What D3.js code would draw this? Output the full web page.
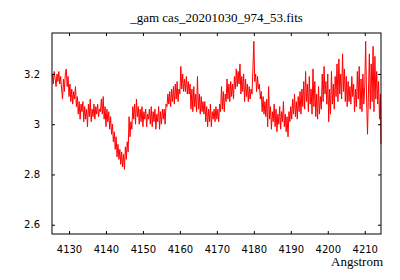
<!DOCTYPE html>
<html>
<head>
<meta charset="utf-8">
<script src="https://cdn.jsdelivr.net/npm/d3@7"></script>
<style>
  body { margin: 0; background: #fff; }
  .axis text { font-family: "DejaVu Sans", sans-serif; font-size: 10px; fill: #000; }
  .title, .x-axis-title { font-family: "Liberation Serif", serif; font-size: 13px; fill: #000; }
</style>
</head>
<body>
<div class="chart"></div>
<script>
// flux, one value every 0.25 Angstrom from 4125.5, last point at 4214.4
const flux = [
  3.20, 3.16, 3.21, 3.18, 3.15, 3.20, 3.17, 3.21,
  3.16, 3.19, 3.14, 3.10, 3.18, 3.13, 3.20, 3.22,
  3.15, 3.19, 3.11, 3.16, 3.09, 3.14, 3.08, 3.13,
  3.10, 3.15, 3.07, 3.11, 3.04, 3.09, 3.02, 3.08,
  3.05, 3.09, 3.01, 3.07, 3.02, 3.06, 2.99, 3.08,
  3.03, 3.10, 3.01, 3.06, 3.03, 3.08, 3.02, 3.07,
  3.04, 3.08, 3.03, 3.06, 3.05, 3.10, 3.04, 3.11,
  3.02, 3.07, 2.99, 3.06, 3.01, 3.05, 2.98, 3.03,
  2.96, 3.00, 2.93, 2.97, 2.90, 2.95, 2.87, 2.92,
  2.86, 2.90, 2.84, 2.89, 2.83, 2.88, 2.82, 2.91,
  2.86, 2.93, 2.89, 3.03, 2.95, 3.01, 2.98, 3.07,
  3.02, 3.08, 3.00, 3.10, 3.03, 3.07, 3.00, 3.06,
  3.01, 3.07, 2.99, 3.05, 3.02, 3.06, 2.99, 3.04,
  3.02, 3.06, 3.00, 3.07, 2.99, 3.05, 3.01, 3.06,
  2.98, 3.04, 3.01, 3.07, 2.98, 3.05, 3.00, 3.06,
  3.02, 3.06, 3.00, 3.08, 3.07, 3.12, 3.08, 3.13,
  3.07, 3.14, 3.09, 3.15, 3.08, 3.16, 3.10, 3.17,
  3.09, 3.14, 3.12, 3.23, 3.14, 3.20, 3.13, 3.18,
  3.13, 3.19, 3.12, 3.17, 3.12, 3.16, 3.06, 3.14,
  3.05, 3.15, 3.07, 3.12, 3.05, 3.19, 3.06, 3.12,
  3.04, 3.11, 3.05, 3.09, 3.04, 3.09, 3.01, 3.07,
  2.99, 3.06, 3.01, 3.08, 2.99, 3.05, 3.02, 3.06,
  3.01, 3.07, 3.02, 3.06, 3.01, 3.08, 3.05, 3.15,
  3.06, 3.13, 3.05, 3.12, 3.09, 3.18, 3.10, 3.16,
  3.09, 3.17, 3.11, 3.16, 3.10, 3.19, 3.14, 3.22,
  3.15, 3.21, 3.16, 3.24, 3.12, 3.19, 3.13, 3.20,
  3.09, 3.18, 3.11, 3.16, 3.09, 3.15, 3.10, 3.14,
  3.12, 3.22, 3.33, 3.17, 3.20, 3.13, 3.19, 3.14,
  3.16, 3.10, 3.13, 3.05, 3.11, 3.04, 3.09, 3.03,
  3.10, 2.99, 3.15, 3.02, 3.07, 2.98, 3.05, 3.01,
  3.08, 2.99, 3.06, 2.97, 3.04, 3.00, 3.07, 2.98,
  3.05, 3.01, 3.09, 2.99, 3.04, 2.97, 3.03, 2.95,
  3.05, 3.01, 3.07, 3.02, 3.10, 3.04, 3.12, 3.03,
  3.09, 3.02, 3.11, 3.05, 3.13, 3.04, 3.14, 3.07,
  3.17, 3.06, 3.21, 3.09, 3.16, 3.05, 3.19, 3.08,
  3.14, 3.04, 3.22, 3.07, 3.17, 3.03, 3.12, 3.02,
  3.15, 3.04, 3.11, 3.06, 3.20, 3.09, 3.23, 3.12,
  3.17, 3.08, 3.20, 3.01, 3.14, 3.04, 3.21, 3.08,
  3.16, 3.06, 3.19, 3.11, 3.24, 3.09, 3.26, 3.12,
  3.20, 3.10, 3.28, 3.13, 3.22, 3.09, 3.19, 3.07,
  3.17, 3.09, 3.15, 3.08, 3.19, 3.11, 3.16, 3.05,
  3.14, 3.07, 3.21, 3.10, 3.23, 3.06, 3.18, 3.05,
  3.20, 3.08, 3.15, 3.33, 3.10, 2.96, 3.12, 3.28,
  3.06, 3.24, 3.09, 3.31, 3.05, 3.27, 3.10, 3.21,
  3.08, 3.17, 3.02, 3.12, 2.92
];

const wave = flux.map((f, i) => i < flux.length - 1 ? 4125.5 + i * 0.25 : 4214.4);

const xTicks = [4130, 4140, 4150, 4160, 4170, 4180, 4190, 4200, 4210];
const yTicks = [2.6, 2.8, 3, 3.2];

const margin = ({top: 33, right: 19, bottom: 46, left: 52}),
width = 400 - margin.left - margin.right,
height = 280 - margin.top - margin.bottom;

const root = d3.select(".chart").append("svg")
    .attr("width", 400)
    .attr("height", 280);

const svg = root.append("g")
    .attr("transform", "translate(" + margin.left + "," + margin.top + ")");

const xScale = d3.scaleLinear()
    .domain([4125.4, 4214.4])
    .range([0, width]);

const yScale = d3.scaleLinear()
    .domain([2.563, 3.363])
    .range([height, 0]);

const data = wave.map((w, i) => ({w: w, f: flux[i]}));

// spectrum
svg.append("path")
    .datum(data)
    .attr("fill", "none")
    .attr("stroke", "#ff0000")
    .attr("stroke-width", 1)
    .attr("d", d3.line().x(d => xScale(d.w)).y(d => yScale(d.f)));

// axes, ticks pointing inwards on all four sides
const xaxis = svg.append("g")
    .attr("class", "axis x-axis")
    .attr("transform", "translate(0," + height + ")")
    .call(d3.axisBottom(xScale).tickValues(xTicks).tickSize(-3).tickPadding(12).tickFormat(d => d));

const xtop = svg.append("g")
    .attr("class", "axis")
    .call(d3.axisTop(xScale).tickValues(xTicks).tickSize(-3).tickFormat(""));

const yaxis = svg.append("g")
    .attr("class", "axis y-axis")
    .call(d3.axisLeft(yScale).tickValues(yTicks).tickSize(-3).tickPadding(12).tickFormat(d => d));

const yright = svg.append("g")
    .attr("class", "axis")
    .attr("transform", "translate(" + width + ",0)")
    .call(d3.axisRight(yScale).tickValues(yTicks).tickSize(-3).tickFormat(""));

svg.selectAll(".axis .domain").remove();
svg.selectAll(".axis line").attr("stroke", "#000");

svg.append("rect")
    .attr("width", width)
    .attr("height", height)
    .attr("fill", "none")
    .attr("stroke", "#000")
    .attr("stroke-width", 1);

root.append("text")
    .attr("class", "title")
    .attr("x", margin.left + width / 2)
    .attr("y", 22)
    .attr("text-anchor", "middle")
    .text("_gam cas_20201030_974_53.fits");

root.append("text")
    .attr("class", "x-axis-title")
    .attr("x", margin.left + width + 2)
    .attr("y", 266)
    .attr("text-anchor", "end")
    .text("Angstrom");
</script>
</body>
</html>
